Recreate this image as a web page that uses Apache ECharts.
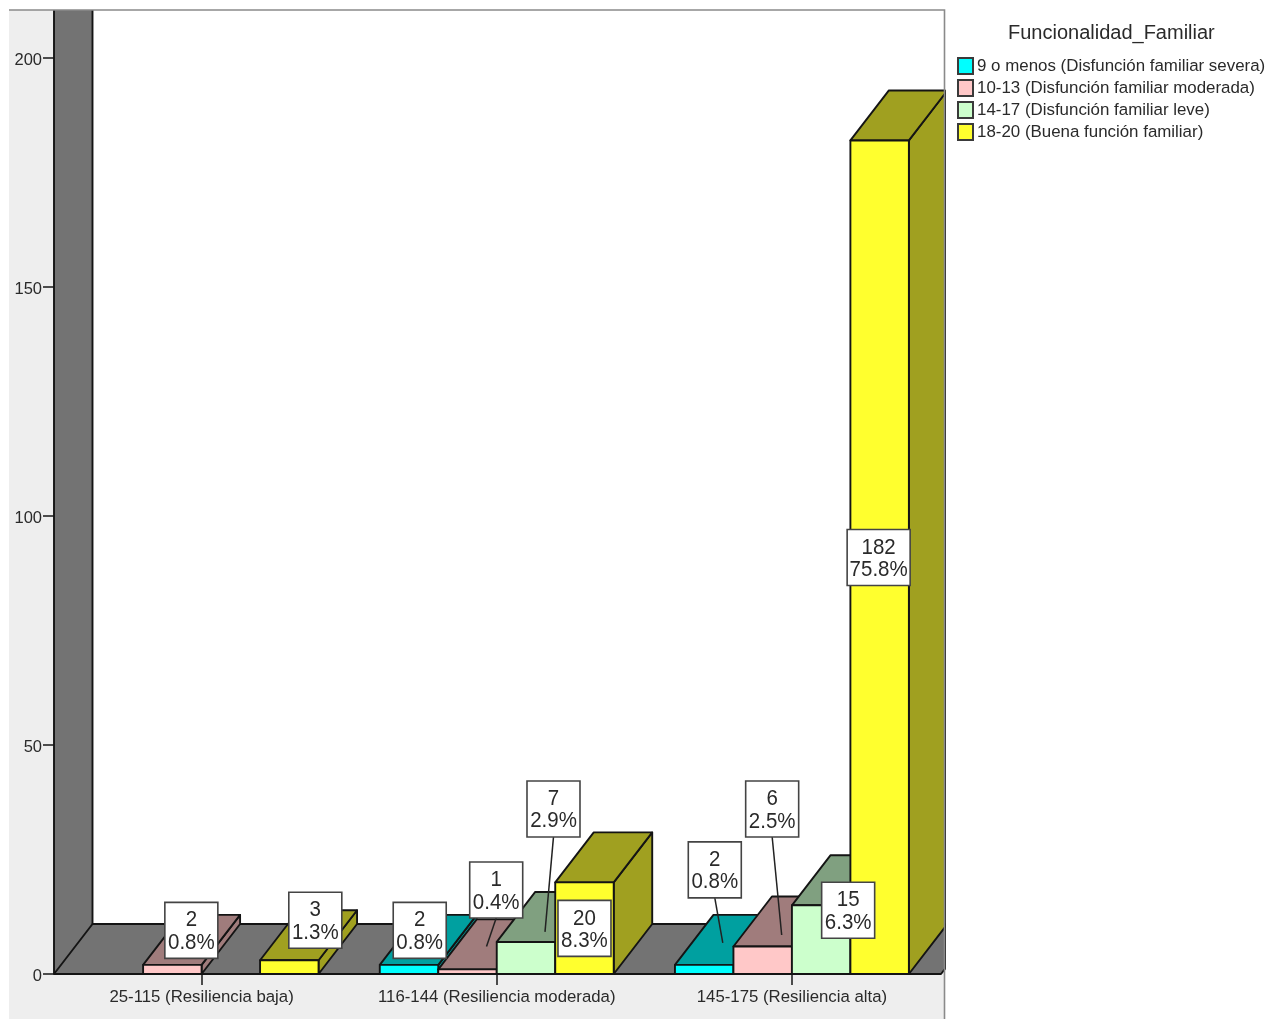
<!DOCTYPE html>
<html>
<head>
<meta charset="utf-8">
<style>html,body{margin:0;padding:0;background:#fff}#c{width:1279px;height:1019px}</style>
<script src="https://cdn.jsdelivr.net/npm/echarts@6/dist/echarts.min.js"></script>
</head>
<body>
<div id="c"></div>
<script>
// ---- data ----
const categories = ['25-115 (Resiliencia baja)', '116-144 (Resiliencia moderada)', '145-175 (Resiliencia alta)'];
const seriesNames = ['9 o menos (Disfunción familiar severa)', '10-13 (Disfunción familiar moderada)', '14-17 (Disfunción familiar leve)', '18-20 (Buena función familiar)'];
const severa   = [null, 2, 2];
const moderada = [2, 1, 6];
const leve     = [null, 7, 15];
const buena    = [3, 20, 182];
const severaPct   = [null, '0.8%', '0.8%'];
const moderadaPct = ['0.8%', '0.4%', '2.5%'];
const levePct     = [null, '2.9%', '6.3%'];
const buenaPct    = ['1.3%', '8.3%', '75.8%'];
const yTicks = [0, 50, 100, 150, 200];
const legendTitle = 'Funcionalidad_Familiar';

// ---- styles ----
const FONT = '"Liberation Sans", Arial, sans-serif';
const faceColors = ['#00ffff', '#ffc8c8', '#ccffcc', '#ffff2e'];
const darkColors = ['#00a0a0', '#a07c7c', '#80a080', '#a0a020'];
const EDGE = '#141414';
const EDGE_W = 1.9;
const DX = 38.5, DY = 50, CLIP_X = 945;
const SLOT = 58.5 / 295.25;
// label box offsets from the bar's front-top centre: [box dx, box dy, leader end dx, leader end dy]
const labelLayout = [
  [[0,0],[19,-34.5],[0,0],[26,-40]],
  [[10.7,-34.5],[28.7,-79.4,19,-23],[27.5,-133,19,-10],[0,46]],
  [[10.6,-95,18.6,-22],[9.5,-137.5,19,-11.5],[27,5],[-1,417]]
];

const values = [severa, moderada, leve, buena];
const pcts = [severaPct, moderadaPct, levePct, buenaPct];

function clipRight(pts, maxX) {
  const out = [];
  for (let i = 0; i < pts.length; i++) {
    const a = pts[i], b = pts[(i + 1) % pts.length];
    const ai = a[0] <= maxX, bi = b[0] <= maxX;
    if (ai) out.push(a);
    if (ai !== bi) {
      const t = (maxX - a[0]) / (b[0] - a[0]);
      out.push([maxX, a[1] + t * (b[1] - a[1])]);
    }
  }
  return out;
}
function poly(pts, fill, stroke) {
  return { type: 'polygon', shape: { points: clipRight(pts, CLIP_X) },
    style: { fill: fill, stroke: stroke === undefined ? EDGE : stroke, lineWidth: EDGE_W, lineJoin: 'round' } };
}

function barRenderer(si) {
  return function (params, api) {
    const cat = api.value(0), val = api.value(1);
    const base = api.coord([cat, 0]);
    const top = api.coord([cat, val]);
    const slot = api.size([1, 0])[0] * SLOT;
    const x0 = base[0] + (si - 2) * slot, x1 = x0 + slot;
    const y0 = base[1], y1 = top[1];
    return { type: 'group', children: [
      poly([[x1, y0], [x1 + DX, y0 - DY], [x1 + DX, y1 - DY], [x1, y1]], darkColors[si]),
      poly([[x0, y1], [x1, y1], [x1 + DX, y1 - DY], [x0 + DX, y1 - DY]], darkColors[si]),
      poly([[x0, y0], [x1, y0], [x1, y1], [x0, y1]], faceColors[si])
    ] };
  };
}

function frameRenderer(params) {
  const r = params.coordSys;
  const L = r.x, T = r.y, B = r.y + r.height, R = r.x + r.width + 1.5;
  return { type: 'group', children: [
    { type: 'rect', shape: { x: L + DX, y: T, width: CLIP_X - L - DX, height: B - DY - T }, style: { fill: '#ffffff' } },
    poly([[L, B], [L + DX, B - DY], [L + DX, T], [L, T]], '#737373', 'none'),
    poly([[L, B], [L + DX, B - DY], [R + DX, B - DY], [R, B]], '#737373'),
    { type: 'polyline', shape: { points: [[L, T], [L, B]] }, style: { fill: 'none', stroke: EDGE, lineWidth: EDGE_W } },
    { type: 'polyline', shape: { points: [[L + DX, T], [L + DX, B - DY]] }, style: { fill: 'none', stroke: EDGE, lineWidth: EDGE_W } }
  ] };
}

function labelRenderer(params, api) {
  const cat = api.value(0), si = api.value(1), val = api.value(2);
  const base = api.coord([cat, 0]);
  const top = api.coord([cat, val]);
  const slot = api.size([1, 0])[0] * SLOT;
  const cx = base[0] + (si - 1.5) * slot;
  const lay = labelLayout[cat][si];
  const bx = cx + lay[0], by = top[1] + lay[1];
  const w = val >= 100 ? 63 : 53, h = 56;
  const kids = [];
  if (lay.length > 2) {
    kids.push({ type: 'line', shape: { x1: bx, y1: by + h / 2, x2: cx + lay[2], y2: top[1] + lay[3] },
      style: { stroke: '#222', lineWidth: 1.5 } });
  }
  kids.push({ type: 'rect', shape: { x: bx - w / 2, y: by - h / 2, width: w, height: h },
    style: { fill: '#fff', stroke: '#444', lineWidth: 1.6 } });
  kids.push({ type: 'text', x: bx, y: by + 1, originX: 0, originY: 0, scaleY: 1.12,
    style: { text: val + '\n' + pcts[si][cat], x: 0, y: 0, align: 'center', verticalAlign: 'middle',
      font: '20.5px ' + FONT, lineHeight: 20, fill: '#2a2a2a' } });
  return { type: 'group', children: kids };
}

const barSeries = seriesNames.map(function (name, si) {
  const rows = [];
  values[si].forEach(function (v, c) { if (v !== null) rows.push([c, v]); });
  return { type: 'custom', name: name, coordinateSystem: 'cartesian2d', renderItem: barRenderer(si),
    encode: { x: 0, y: 1 }, data: rows, z: 3, clip: false, silent: true,
    itemStyle: { color: faceColors[si], borderColor: '#3a3a3a', borderWidth: 1.5 } };
});
const labelRows = [];
values.forEach(function (arr, si) { arr.forEach(function (v, c) { if (v !== null) labelRows.push([c, si, v]); }); });

const chart = echarts.init(document.getElementById('c'));
chart.setOption({
  animation: false,
  backgroundColor: '#ffffff',
  textStyle: { fontFamily: FONT },
  title: { text: legendTitle, left: 1008, top: 23, padding: 0,
    textStyle: { fontFamily: FONT, fontWeight: 'normal', fontSize: 20, color: '#2a2a2a' } },
  legend: { orient: 'vertical', left: 957, top: 57, padding: 0, itemGap: 4, itemWidth: 15, itemHeight: 16,
    data: seriesNames.map(function (n) { return { name: n, icon: 'rect' }; }),
    selectedMode: false,
    textStyle: { fontFamily: FONT, fontSize: 16.9, color: '#2a2a2a', padding: [1, 0, 0, -1] } },
  grid: { left: 54, top: 10, width: 885.5, height: 964, containLabel: false },
  graphic: [
    { type: 'rect', z: -5, silent: true, shape: { x: 9, y: 10, width: 935, height: 1009 }, style: { fill: '#eeeeee' } },
    { type: 'polyline', z: 20, silent: true, shape: { points: [[9, 10], [944.5, 10], [944.5, 1019]] }, style: { fill: 'none', stroke: '#8a8a8a', lineWidth: 1.6 } }
  ],
  xAxis: { type: 'category', data: categories, boundaryGap: true,
    axisLine: { show: false },
    axisTick: { show: true, alignWithLabel: true, length: 11, lineStyle: { color: '#222', width: 1.6 } },
    axisLabel: { fontFamily: FONT, fontSize: 16.8, color: '#2a2a2a', margin: 15, interval: 0, hideOverlap: false } },
  yAxis: { type: 'value', min: 0, max: 964 / 4.58, splitLine: { show: false },
    axisLine: { show: false },
    axisTick: { show: true, length: 11, customValues: yTicks, lineStyle: { color: '#222', width: 1.6 } },
    axisLabel: { fontFamily: FONT, fontSize: 16.5, color: '#2a2a2a', margin: 12, verticalAlign: 'top', lineHeight: 5, customValues: yTicks } },
  series: [
    { type: 'custom', name: 'marco', coordinateSystem: 'cartesian2d', renderItem: frameRenderer, data: [[0, 0]],
      encode: { x: 0, y: 1 }, z: 1, clip: false, silent: true }
  ].concat(barSeries).concat([
    { type: 'custom', name: 'etiquetas', coordinateSystem: 'cartesian2d', renderItem: labelRenderer, data: labelRows,
      encode: { x: 0 }, z: 10, clip: false, silent: true }
  ])
});
</script>
</body>
</html>
